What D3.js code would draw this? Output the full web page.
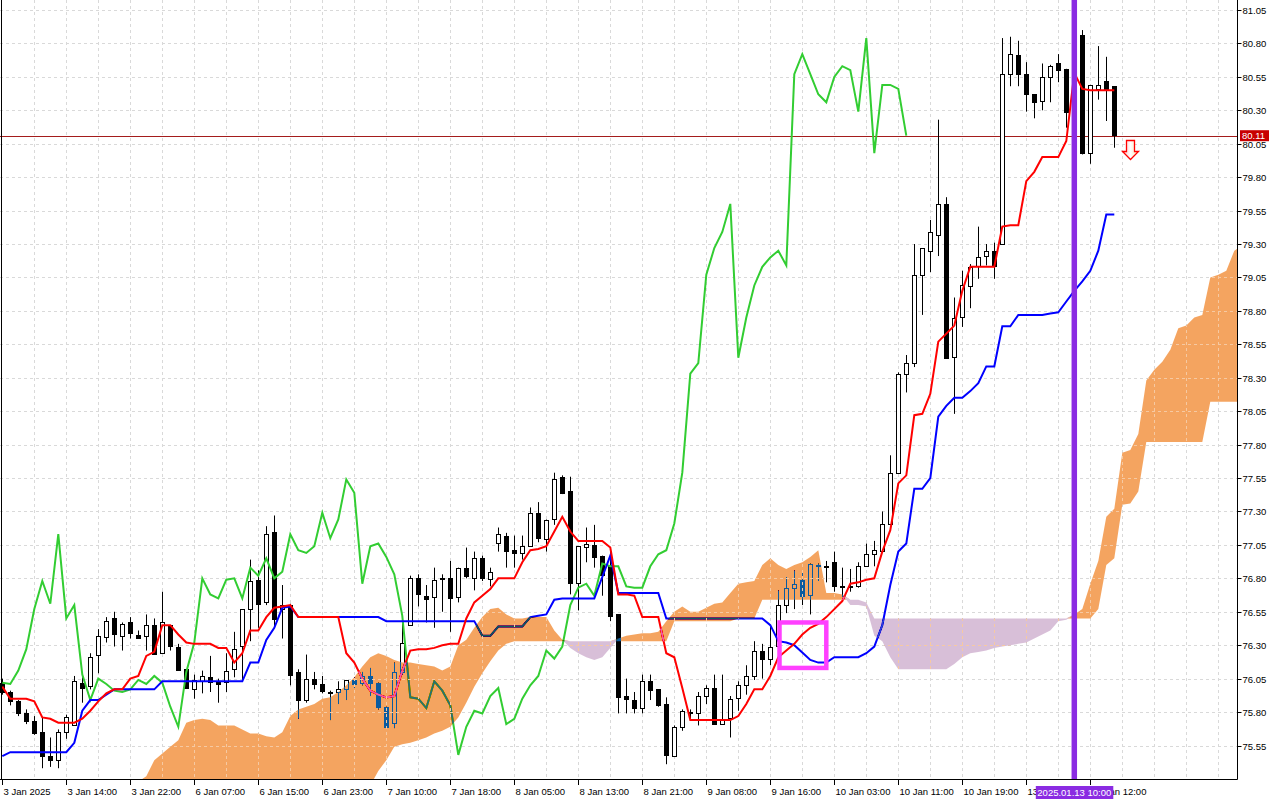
<!DOCTYPE html>
<html><head><meta charset="utf-8">
<script src="https://cdn.jsdelivr.net/npm/d3@7"></script>
<style>
body{margin:0;background:#fff;}
svg{display:block;font-family:"Liberation Sans",Arial,sans-serif;}
</style>
</head><body>
<svg id="c" width="1280" height="800"></svg>
<script>
// ---------- DATA ----------
const tickLabels = ["3 Jan 2025","3 Jan 14:00","3 Jan 22:00","6 Jan 07:00","6 Jan 15:00","6 Jan 23:00","7 Jan 10:00","7 Jan 18:00","8 Jan 05:00","8 Jan 13:00","8 Jan 21:00","9 Jan 08:00","9 Jan 16:00","10 Jan 03:00","10 Jan 11:00","10 Jan 19:00","13 Jan 04:00","13 Jan 12:00"];
const tickEvery = 8; // bars between time labels
const priceTicks = ["75.55","75.80","76.05","76.30","76.55","76.80","77.05","77.30","77.55","77.80","78.05","78.30","78.55","78.80","79.05","79.30","79.55","79.80","80.05","80.30","80.55","80.80","81.05"];

const opens = [76.02,75.95,75.88,75.79,75.73,75.65,75.47,75.44,75.65,75.70, 76.02,75.99,76.23,76.36,76.50,76.37,76.47,76.38,76.37,76.45, 76.24,76.45,76.29,76.12,75.97,76.03,76.06,76.03,76.03,76.12, 76.29,76.57,76.79,76.62,77.15,76.57,76.60,76.10,75.89,76.05, 76.01,75.95,75.95,75.97,76.04,76.02,76.07,76.02,75.84,75.72, 76.10,76.45,76.80,76.67,76.66,76.79,76.80,76.66,76.88,76.80, 76.95,76.80,77.06,77.12,77.01,76.99,77.04,77.29,77.10,77.24, 77.56,77.45,76.76,77.04,77.05,76.97,76.90,76.53,75.92,75.89, 75.83,76.03,75.97,75.86,75.47,75.69,75.80,75.79,75.92,75.98, 75.71,75.76,75.90,76.00,76.07,76.26,76.20,76.29,76.60,76.73, 76.79,76.68,76.90,76.89,76.92,76.74,76.74,76.74,76.89,76.98, 77.01,77.21,77.59,78.33,78.41,79.07,79.25,79.37,79.60,78.46, 78.75,78.99,79.13,79.21,79.25,79.30,80.57,80.71,80.57,80.42, 80.37,80.55,80.65,80.61,80.29,80.86,79.98,80.46,80.52,80.48];
const highs = [76.05,75.96,75.89,75.82,75.77,75.76,75.61,75.67,75.78,76.07, 76.06,76.24,76.42,76.51,76.55,76.47,76.51,76.41,76.53,76.50, 76.70,76.45,76.31,76.12,76.08,76.11,76.22,76.05,76.24,76.40, 76.57,76.94,76.86,77.19,77.27,76.75,76.61,76.12,76.23,76.10, 76.07,75.96,76.03,76.04,76.06,76.10,76.13,76.02,75.84,76.17, 76.51,76.82,76.83,76.75,76.88,76.83,76.93,76.88,77.03,77.00, 76.97,76.88,77.18,77.14,77.12,77.12,77.33,77.37,77.24,77.59, 77.57,77.56,77.04,77.18,77.20,76.97,77.03,76.53,76.05,75.95, 76.08,76.08,75.97,75.91,75.70,75.82,75.82,75.95,76.00,76.08, 76.08,75.92,76.03,76.15,76.33,76.31,76.44,76.71,76.81,76.86, 76.86,76.91,76.91,76.93,77.00,76.88,76.87,76.92,77.06,77.08, 77.30,77.72,78.34,78.47,79.30,79.27,79.48,80.23,79.65,78.90, 79.10,79.15,79.43,79.30,79.31,80.84,80.85,80.82,80.66,80.42, 80.65,80.64,80.72,80.61,80.88,80.90,80.49,80.78,80.70,80.48];
const lows = [75.93,75.85,75.77,75.71,75.63,75.38,75.39,75.38,75.60,75.70, 75.87,75.97,76.09,76.32,76.29,76.26,76.35,76.35,76.26,76.23, 76.24,76.26,76.12,75.98,75.90,75.94,75.95,75.87,75.95,76.06, 76.04,76.33,76.43,76.60,76.44,76.35,76.00,75.75,75.87,75.97, 75.94,75.74,75.86,75.89,75.98,76.00,75.92,75.82,75.68,75.68, 76.08,76.45,76.59,76.47,76.43,76.55,76.40,76.62,76.80,76.71, 76.78,76.74,77.00,76.88,76.88,76.94,77.04,77.07,77.00,77.20, 77.43,76.68,76.56,76.92,76.88,76.67,76.48,75.79,75.79,75.79, 75.79,75.89,75.84,75.41,75.47,75.66,75.74,75.70,75.86,75.71, 75.71,75.61,75.81,75.93,76.04,76.05,76.15,76.27,76.54,76.57, 76.60,76.53,76.78,76.77,76.70,76.66,76.70,76.73,76.89,76.89, 77.01,77.21,77.59,78.19,78.38,78.77,79.09,79.21,78.45,78.03, 78.68,78.82,79.04,79.14,79.04,79.30,80.48,80.48,80.29,80.24, 80.30,80.36,80.51,80.17,80.20,79.97,79.90,80.38,80.22,80.02];
const closes = [75.95,75.88,75.79,75.73,75.64,75.47,75.44,75.65,75.76,76.03, 75.98,76.21,76.37,76.48,76.38,76.46,76.39,76.36,76.45,76.23, 76.47,76.29,76.12,75.98,76.04,76.07,76.02,76.01,76.11,76.27, 76.57,76.78,76.61,77.13,76.50,76.60,76.08,75.89,76.05,76.01, 75.96,75.95,75.97,76.04,76.01,76.07,76.02,75.84,75.69,76.10, 76.32,76.80,76.68,76.65,76.79,76.80,76.65,76.88,76.82,76.95, 76.80,76.85,77.13,77.01,76.99,77.04,77.29,77.10,77.24,77.54, 77.44,76.76,77.04,77.06,76.96,76.83,76.52,75.91,75.90,75.83, 76.03,75.96,75.85,75.48,75.69,75.81,75.79,75.92,75.98,75.71, 75.75,75.90,76.00,76.07,76.26,76.20,76.29,76.60,76.73,76.76, 76.67,76.91,76.89,76.89,76.74,76.73,76.73,76.89,76.98,77.01, 77.21,77.59,78.33,78.41,79.07,79.27,79.39,79.60,78.45,78.75, 78.99,79.13,79.20,79.25,79.14,80.57,80.72,80.57,80.42,80.36, 80.55,80.63,80.60,80.29,80.84,79.98,80.49,80.49,80.46,80.11];

const tenkan = [75.99,75.90,75.90,75.90,75.88,75.76,75.75,75.72,75.72,75.72, 75.75,75.81,75.88,75.94,75.97,75.97,76.05,76.07,76.22,76.25, 76.45,76.45,76.38,76.32,76.31,76.31,76.31,76.28,76.28,76.17, 76.24,76.41,76.41,76.51,76.58,76.59,76.60,76.51,76.51,76.51, 76.51,76.51,76.51,76.24,76.17,76.05,75.96,75.93,75.91,75.92, 76.11,76.26,76.27,76.27,76.28,76.30,76.31,76.31,76.50,76.62, 76.67,76.72,76.80,76.80,76.80,76.92,77.01,77.02,77.04,77.15, 77.26,77.15,77.08,77.08,77.08,77.08,77.03,76.68,76.68,76.67, 76.51,76.51,76.51,76.24,76.21,75.98,75.74,75.74,75.74,75.74, 75.74,75.74,75.77,75.86,75.97,75.97,76.07,76.21,76.26,76.31, 76.38,76.43,76.46,76.51,76.57,76.63,76.76,76.77,76.79,76.80, 77.00,77.16,77.51,77.57,78.02,78.03,78.18,78.57,78.63,78.69, 78.95,79.13,79.13,79.13,79.13,79.43,79.44,79.44,79.77,79.84, 79.95,79.95,79.95,80.07,80.58,80.46,80.45,80.45,80.45,80.45];
const kijun = [75.47,75.50,75.50,75.50,75.50,75.50,75.50,75.50,75.50,75.57, 75.81,75.89,75.89,75.93,75.97,75.97,75.97,75.97,75.97,75.97, 76.03,76.03,76.03,76.03,76.03,76.03,76.03,76.03,76.03,76.03, 76.03,76.17,76.17,76.34,76.43,76.58,76.59,76.51,76.51,76.51, 76.51,76.51,76.51,76.51,76.51,76.51,76.51,76.51,76.48,76.48, 76.48,76.48,76.48,76.48,76.48,76.48,76.48,76.48,76.48,76.48, 76.37,76.37,76.44,76.44,76.44,76.44,76.51,76.52,76.53,76.64, 76.65,76.65,76.65,76.65,76.65,76.81,76.97,76.69,76.69,76.69, 76.69,76.69,76.69,76.50,76.50,76.50,76.50,76.50,76.50,76.50, 76.50,76.50,76.50,76.50,76.50,76.50,76.45,76.33,76.32,76.30, 76.245,76.19,76.17,76.17,76.21,76.21,76.21,76.21,76.24,76.29, 76.45,76.75,77.00,77.06,77.47,77.47,77.55,78.01,78.09,78.15, 78.15,78.20,78.26,78.385,78.385,78.685,78.685,78.77,78.77,78.77, 78.77,78.78,78.79,78.87,78.95,79.02,79.10,79.25,79.52,79.52];
const chikouShift = 26;

const cloudStart = 17; // first bar index of the span arrays
const spanA = [75.28,75.32,75.44,75.49,75.54,75.59,75.72,75.74,75.75,75.74, 75.70,75.70,75.70,75.67,75.64,75.64,75.62,75.61,75.65,75.77, 75.82,75.84,75.86,75.90,75.91,75.95,76.00,76.06,76.14,76.21, 76.24,76.22,76.19,76.17,76.17,76.16,76.15,76.14,76.11,76.14, 76.30,76.34,76.43,76.51,76.57,76.58,76.53,76.50,76.50,76.51, 76.51,76.51,76.41,76.34,76.28,76.24,76.21,76.19,76.21,76.28, 76.35,76.37,76.38,76.39,76.39,76.40,76.48,76.55,76.59,76.55, 76.55,76.58,76.61,76.62,76.69,76.76,76.77,76.78,76.90,76.95, 76.90,76.87,76.90,76.92,76.96,77.01,76.69,76.69,76.68,76.60, 76.60,76.59,76.37,76.33,76.21,76.12,76.12,76.12,76.12,76.12, 76.12,76.12,76.16,76.21,76.24,76.25,76.26,76.28,76.29,76.30, 76.31,76.32,76.35,76.38,76.41,76.48,76.49,76.53,76.57,76.76, 76.93,77.26,77.32,77.74,77.76,77.88,78.28,78.36,78.42,78.51, 78.67,78.69,78.75,78.77,79.05,79.07,79.10,79.25,79.29];
const spanB = [75.00,75.00,75.00,75.00,75.00,75.00,75.00,75.00,75.00,75.00, 75.00,75.00,75.00,75.00,75.00,75.00,75.00,75.00,75.00,75.00, 75.00,75.00,75.00,75.00,75.00,75.00,75.00,75.00,75.00,75.25, 75.36,75.44,75.54,75.56,75.57,75.59,75.61,75.64,75.66,75.69, 75.76,75.87,75.99,76.09,76.18,76.26,76.31,76.33,76.33,76.33, 76.33,76.33,76.33,76.33,76.33,76.33,76.33,76.33,76.33,76.33, 76.33,76.33,76.33,76.33,76.33,76.33,76.33,76.48,76.48,76.48, 76.48,76.48,76.48,76.48,76.48,76.50,76.50,76.50,76.64,76.64, 76.64,76.64,76.64,76.64,76.64,76.64,76.64,76.64,76.64,76.64, 76.64,76.62,76.50,76.50,76.50,76.50,76.50,76.50,76.50,76.50, 76.50,76.50,76.50,76.50,76.50,76.50,76.50,76.50,76.50,76.50, 76.50,76.50,76.50,76.50,76.50,76.50,76.50,76.50,76.50,76.50, 76.57,76.90,76.95,77.35,77.36,77.45,77.82,77.82,77.82,77.82, 77.82,77.82,77.82,77.82,78.12,78.12,78.12,78.12,78.12];

const markerBar = 134;              // vertical purple marker (2025.01.13 10:00)
const markerLabel = "2025.01.13 10:00";
const boxBars = [97.15, 103.0];     // magenta highlight box, bar range
const boxPrices = [76.47, 76.13];   // magenta highlight box, price range
const arrowBar = 141, arrowPrice = 80.08; // sell arrow

// ---------- LAYOUT ----------
const W = 1280, H = 800;
const plotRight = 1237.5, plotBottom = 779;
const x = d3.scaleLinear().domain([0, 1]).range([2.3, 10.3]);
const y = d3.scaleLinear().domain([75.55, 81.05]).range([745.5, 10]);
const px = v => Math.round(v) + 0.5;

const svg = d3.select("#c");
svg.append("rect").attr("width", W).attr("height", H).attr("fill", "#fff");
const defs = svg.append("defs");
defs.append("clipPath").attr("id", "plot").append("rect")
  .attr("x", 0).attr("y", 0).attr("width", plotRight).attr("height", plotBottom);
const grad = defs.append("linearGradient").attr("id", "arrowFill").attr("x1", "0").attr("x2", "1");
grad.append("stop").attr("offset", "0").attr("stop-color", "#ffb8b8");
grad.append("stop").attr("offset", "0.5").attr("stop-color", "#ffffff");
grad.append("stop").attr("offset", "1").attr("stop-color", "#ffe0a8");

// cloud geometry (from spanA / spanB)
const cloud = spanA.map((a, k) => ({ bar: cloudStart + k, a: a, b: spanB[k] }));
const upArea = d3.area().x(d => x(d.bar)).y0(d => y(d.b)).y1(d => y(Math.max(d.a, d.b)));
const dnArea = d3.area().x(d => x(d.bar)).y0(d => y(d.a)).y1(d => y(Math.max(d.a, d.b)));
const cloudClip = defs.append("clipPath").attr("id", "cloudClip");
cloudClip.append("path").attr("d", upArea(cloud));
cloudClip.append("path").attr("d", dnArea(cloud));

const plot = svg.append("g").attr("clip-path", "url(#plot)");
plot.append("rect").attr("width", plotRight).attr("height", plotBottom).attr("fill", "#fff");

function drawGrid(g) {
  priceTicks.forEach(t => {
    const yy = px(y(+t));
    g.append("line").attr("x1", 0).attr("x2", plotRight).attr("y1", yy).attr("y2", yy);
  });
  d3.range(4, 200, 4).filter(b => x(b) < plotRight).forEach(b => {
    const xx = px(x(b));
    g.append("line").attr("x1", xx).attr("x2", xx).attr("y1", 0).attr("y2", plotBottom);
  });
}
drawGrid(plot.append("g").attr("stroke", "#d9d9d9").attr("stroke-dasharray", "3,3").attr("stroke-width", 1));

// current price line
const lastClose = closes[closes.length - 1];
plot.append("line").attr("x1", 0).attr("x2", plotRight)
  .attr("y1", px(y(lastClose))).attr("y2", px(y(lastClose)))
  .attr("stroke", "#a41c1c").attr("stroke-width", 1);

// candles
const candleG = plot.append("g");
opens.forEach((o, i) => {
  const c = closes[i], h = highs[i], l = lows[i];
  const xc = Math.round(x(i));
  candleG.append("line").attr("x1", xc + 0.5).attr("x2", xc + 0.5)
    .attr("y1", y(h)).attr("y2", y(l)).attr("stroke", "#000").attr("stroke-width", 1);
  const top = y(Math.max(o, c)), bot = y(Math.min(o, c));
  const hgt = Math.max(1, bot - top);
  candleG.append("rect").attr("x", xc - 1.5).attr("width", 4)
    .attr("y", Math.round(top) + 0.5).attr("height", Math.max(1, Math.round(hgt)))
    .attr("fill", c >= o ? "#fff" : "#000").attr("stroke", "#000").attr("stroke-width", 1);
});

// Ichimoku lines
const line = d3.line().x(d => x(d[0])).y(d => y(d[1]));
const chikou = closes.slice(chikouShift).map((v, i) => [i, v]);
plot.append("path").attr("d", line(chikou)).attr("fill", "none").attr("stroke", "#32cd32").attr("stroke-width", 2);
plot.append("path").attr("d", line(kijun.map((v, i) => [i, v]))).attr("fill", "none").attr("stroke", "#0000ff").attr("stroke-width", 2);
plot.append("path").attr("d", line(tenkan.map((v, i) => [i, v]))).attr("fill", "none").attr("stroke", "#ff0000").attr("stroke-width", 2);

// Kumo cloud, painted in "difference" mode (like the XOR painting of the original terminal)
const cloudG = plot.append("g").style("mix-blend-mode", "difference");
cloudG.append("path").attr("d", upArea(cloud)).attr("fill", "rgb(11,91,159)");  // sandy brown on white
cloudG.append("path").attr("d", dnArea(cloud)).attr("fill", "rgb(39,64,39)");   // thistle on white

// faint grid visible through the cloud
drawGrid(plot.append("g").attr("clip-path", "url(#cloudClip)")
  .attr("stroke", "#f6c9a2").attr("stroke-dasharray", "3,3").attr("stroke-width", 1));

// magenta highlight box
plot.append("rect")
  .attr("x", x(boxBars[0])).attr("y", y(boxPrices[0]))
  .attr("width", x(boxBars[1]) - x(boxBars[0])).attr("height", y(boxPrices[1]) - y(boxPrices[0]))
  .attr("fill", "none").attr("stroke", "#ff40ff").attr("stroke-width", 4.5);

// purple vertical marker
plot.append("line").attr("x1", x(markerBar)).attr("x2", x(markerBar))
  .attr("y1", 0).attr("y2", plotBottom).attr("stroke", "#8a2be2").attr("stroke-width", 5.5);

// sell arrow
const ax = Math.round(x(arrowBar)) + 0.5, ay = Math.round(y(arrowPrice)) + 0.5;
const arrowPts = [[-4,0],[4,0],[4,11],[8,11],[0,19],[-8,11],[-4,11]];
svg.append("path")
  .attr("d", "M" + arrowPts.map(p => (ax + p[0]) + "," + (ay + p[1])).join("L") + "Z")
  .attr("fill", "url(#arrowFill)").attr("stroke", "#ff0000").attr("stroke-width", 1.3);

// axes frame
const axisG = svg.append("g").attr("stroke", "#000").attr("stroke-width", 1);
axisG.append("line").attr("x1", plotRight).attr("x2", plotRight).attr("y1", 0).attr("y2", plotBottom + 0.5);
axisG.append("line").attr("x1", 0).attr("x2", plotRight).attr("y1", plotBottom + 0.5).attr("y2", plotBottom + 0.5);
axisG.append("line").attr("x1", 1.5).attr("x2", 1.5).attr("y1", 0).attr("y2", plotBottom + 0.5);

// price axis
priceTicks.forEach(t => {
  const yy = px(y(+t));
  axisG.append("line").attr("x1", plotRight).attr("x2", plotRight + 4).attr("y1", yy).attr("y2", yy);
  svg.append("text").attr("x", plotRight + 5).attr("y", yy).attr("dy", "0.35em")
    .attr("font-size", 9.5).attr("fill", "#000").text(t);
});

// time axis
tickLabels.forEach((t, k) => {
  const xx = px(x(k * tickEvery));
  axisG.append("line").attr("x1", xx).attr("x2", xx).attr("y1", plotBottom + 0.5).attr("y2", plotBottom + 6);
  svg.append("text").attr("x", xx + 1).attr("y", plotBottom + 16)
    .attr("font-size", 9.5).attr("fill", "#000").text(t);
});

// current price tag
const pyy = y(lastClose);
svg.append("rect").attr("x", plotRight + 2.5).attr("y", pyy - 5.5).attr("width", 29).attr("height", 11).attr("fill", "#c80000");
svg.append("text").attr("x", plotRight + 4.5).attr("y", pyy).attr("dy", "0.36em")
  .attr("font-size", 9.5).attr("fill", "#fff").text(lastClose.toFixed(2));

// marker time tag
const mx = x(markerBar);
svg.append("rect").attr("x", mx - 38.5).attr("y", plotBottom + 7).attr("width", 77.5).attr("height", 13).attr("fill", "#8a2be2");
svg.append("text").attr("x", mx).attr("y", plotBottom + 16.5).attr("text-anchor", "middle")
  .attr("font-size", 9.5).attr("fill", "#fff").text(markerLabel);
</script>
</body></html>
